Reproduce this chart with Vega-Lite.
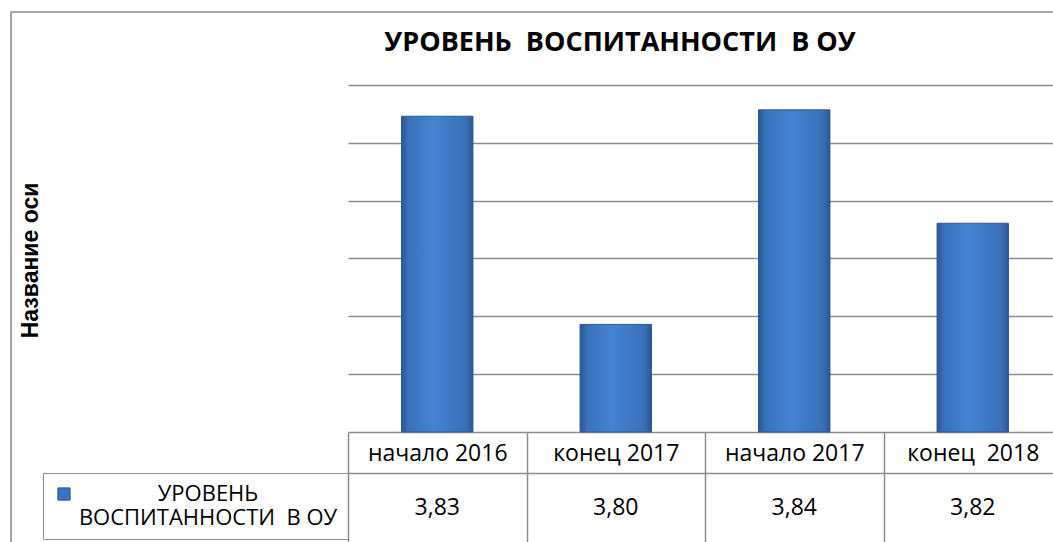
{
  "$schema": "https://vega.github.io/schema/vega-lite/v6.json",
  "width": 1060,
  "height": 545,
  "autosize": {"type": "none"},
  "padding": {"left": 11, "top": 12, "right": -18, "bottom": -15},
  "background": "white",
  "config": {"view": {"stroke": "#8a8a8a", "strokeWidth": 1.5}, "font": "Open Sans"},
  "title": {
    "text": "УРОВЕНЬ \u00a0ВОСПИТАННОСТИ \u00a0В ОУ",
    "frame": "group",
    "anchor": "start",
    "align": "center",
    "dx": 609,
    "dy": 29,
    "offset": -37,
    "baseline": "alphabetic",
    "font": "Open Sans",
    "fontSize": 27,
    "fontWeight": "bold",
    "color": "#000000"
  },
  "data": {
    "values": [
      {"period": "начало 2016", "value": 3.8346, "label": "3,83", "series": "УРОВЕНЬ  ВОСПИТАННОСТИ \u00a0В ОУ"},
      {"period": "конец 2017", "value": 3.7986, "label": "3,80", "series": "УРОВЕНЬ  ВОСПИТАННОСТИ \u00a0В ОУ"},
      {"period": "начало 2017", "value": 3.8357, "label": "3,84", "series": "УРОВЕНЬ  ВОСПИТАННОСТИ \u00a0В ОУ"},
      {"period": "конец \u00a02018", "value": 3.8161, "label": "3,82", "series": "УРОВЕНЬ  ВОСПИТАННОСТИ \u00a0В ОУ"}
    ]
  },
  "layer": [
    {
      "mark": {
        "type": "bar", "width": {"band": 0.4}, "stroke": "#2c5a96", "strokeWidth": 1,
        "color": {"gradient": "linear", "x1": 0, "y1": 0, "x2": 1, "y2": 0, "stops": [
          {"offset": 0, "color": "#2a5591"},
          {"offset": 0.1, "color": "#3a72bb"},
          {"offset": 0.45, "color": "#4483d2"},
          {"offset": 0.9, "color": "#3a70b8"},
          {"offset": 1, "color": "#2a5591"}
        ]}
      },
      "encoding": {
        "x": {
          "field": "period", "type": "nominal", "sort": null,
          "scale": {"range": [337, 1051], "paddingInner": 0, "paddingOuter": 0},
          "axis": {
            "orient": "bottom", "offset": -125, "title": null,
            "domain": true, "domainColor": "#8c8c8c", "domainWidth": 1.5,
            "ticks": true, "tickBand": "extent", "tickSize": 115, "tickColor": "#8c8c8c", "tickWidth": 1.5,
            "labels": true, "labelAngle": 0, "labelFont": "Open Sans", "labelFontSize": 23, "labelColor": "#000000",
            "labelPadding": -94, "labelBaseline": "middle", "labelAlign": "center", "labelLimit": 0,
            "grid": false
          }
        },
        "y": {
          "field": "value", "type": "quantitative",
          "scale": {"domain": [3.78, 3.84], "range": [420, 73], "nice": false, "zero": false},
          "axis": {
            "orient": "left", "title": "Название оси",
            "titleFont": "Liberation Sans", "titleFontSize": 23, "titleFontWeight": "bold", "titleColor": "#000000",
            "titleAngle": -90, "titleX": 26, "titleY": 248, "titleAlign": "center", "titleBaseline": "alphabetic",
            "domain": false, "ticks": false, "labels": false,
            "grid": true, "gridColor": "#8c8c8c", "gridWidth": 1.5,
            "values": [3.79, 3.8, 3.81, 3.82, 3.83, 3.84]
          }
        },
        "y2": {"datum": 3.78}
      }
    },
    {
      "mark": {"type": "text", "font": "Open Sans", "fontSize": 23, "baseline": "middle", "align": "center", "dy": 76, "color": "#000000"},
      "encoding": {
        "x": {
          "field": "period", "type": "nominal", "sort": null,
          "axis": {
            "orient": "bottom", "offset": -84, "title": null,
            "domain": true, "domainColor": "#8c8c8c", "domainWidth": 1.5,
            "ticks": false, "labels": false, "grid": false
          }
        },
        "y": {"datum": 3.78},
        "text": {"field": "label"}
      }
    },
    {
      "mark": {"type": "square", "opacity": 0, "size": 1},
      "encoding": {
        "x": {"field": "period", "type": "nominal", "sort": null, "axis": null},
        "y": {"field": "value", "type": "quantitative"},
        "color": {
          "field": "series", "type": "nominal",
          "scale": {"range": ["#3a74c0"]},
          "legend": {
            "orient": "none", "legendX": 32, "legendY": 461, "title": null,
            "strokeColor": "#8c8c8c", "padding": 10,
            "symbolType": "square", "symbolSize": 150, "symbolStrokeWidth": 1, "symbolStrokeColor": "#2a5591", "symbolOpacity": 1,
            "labelFont": "Open Sans", "labelFontSize": 22, "labelColor": "#000000",
            "labelAlign": "center", "labelOffset": 133, "labelLimit": 0,
            "labelExpr": "[slice(datum.label, 0, indexof(datum.label, ' ')), trim(slice(datum.label, indexof(datum.label, ' ')))]"
          }
        }
      }
    }
  ],
  "resolve": {"axis": {"x": "independent"}}
}
